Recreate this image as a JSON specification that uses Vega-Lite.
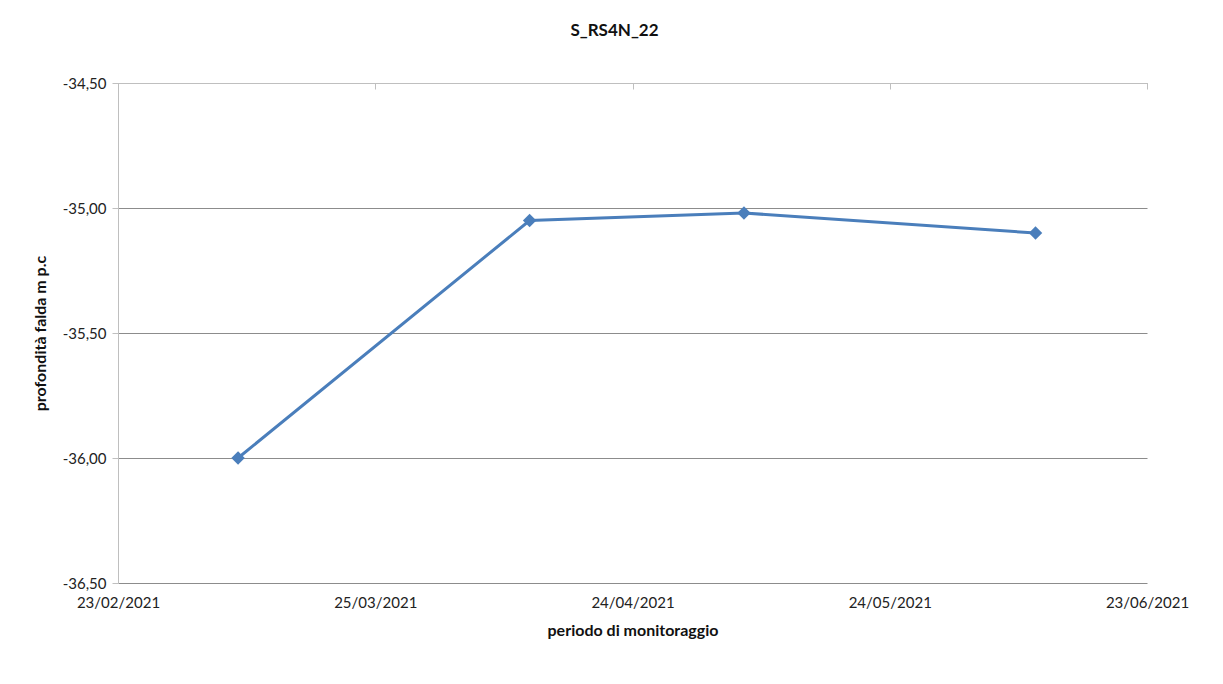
{
  "$schema": "https://vega.github.io/schema/vega-lite/v6.json",
  "autosize": "none",
  "width": 1029,
  "height": 500,
  "padding": {"left": 118, "top": 83, "right": 76, "bottom": 101},
  "background": "white",
  "config": {
    "view": {"stroke": null},
    "font": "Lato",
    "axis": {"labelFont": "Lato", "titleFont": "Lato", "labelColor": "#222222", "titleColor": "#111111"}
  },
  "title": {
    "text": "S_RS4N_22",
    "font": "Lato",
    "fontSize": 17,
    "fontWeight": "bold",
    "color": "#111111",
    "anchor": "middle",
    "offset": 36,
    "dx": -18
  },
  "data": {
    "values": [
      {"data": "2021-03-09", "profondita": -36.00},
      {"data": "2021-04-12", "profondita": -35.05},
      {"data": "2021-05-07", "profondita": -35.02},
      {"data": "2021-06-10", "profondita": -35.10}
    ]
  },
  "layer": [
    {
      "mark": {
        "type": "line",
        "color": "#4A7EBB",
        "strokeWidth": 3,
        "point": {"shape": "diamond", "size": 180, "filled": true, "color": "#4A7EBB", "opacity": 1}
      },
      "encoding": {
        "x": {
          "field": "data",
          "type": "temporal",
          "scale": {"type": "utc", "domain": [1614038400000, 1624406400000]},
          "axis": {
            "orient": "bottom",
            "title": "periodo di monitoraggio",
            "titleFontSize": 16,
            "titleFontWeight": "bold",
            "titlePadding": 12,
            "values": [1614038400000, 1616630400000, 1619222400000, 1621814400000, 1624406400000],
            "labelExpr": "utcFormat(datum.value, '%d/%m/%Y')",
            "labelFontSize": 15,
            "labelPadding": 12,
            "labelOverlap": false,
            "labelFlush": false,
            "domain": false,
            "ticks": false,
            "grid": false
          }
        },
        "y": {
          "field": "profondita",
          "type": "quantitative",
          "scale": {"domain": [-36.5, -34.5], "zero": false, "nice": false},
          "axis": {
            "title": "profondità falda m p.c",
            "titleFontSize": 16,
            "titleFontWeight": "bold",
            "titlePadding": 14,
            "values": [-36.5, -36.0, -35.5, -35.0, -34.5],
            "labelExpr": "(datum.value < 0 ? '-' : '') + replace(format(abs(datum.value), '.2f'), '.', ',')",
            "labelFontSize": 15,
            "labelPadding": 6,
            "domain": true,
            "domainColor": "#BFBFBF",
            "domainWidth": 1,
            "ticks": true,
            "tickColor": "#BFBFBF",
            "tickSize": 6,
            "grid": true,
            "gridColor": "#8C8C8C",
            "gridWidth": 1
          }
        }
      }
    },
    {
      "mark": {"type": "point", "opacity": 0},
      "encoding": {
        "x": {
          "field": "data",
          "type": "temporal",
          "axis": {
            "orient": "top",
            "title": null,
            "labels": false,
            "values": [1614038400000, 1616630400000, 1619222400000, 1621814400000, 1624406400000],
            "domain": true,
            "domainColor": "#BFBFBF",
            "ticks": true,
            "tickColor": "#BFBFBF",
            "tickSize": -6,
            "grid": false
          }
        },
        "y": {"field": "profondita", "type": "quantitative"}
      }
    }
  ],
  "resolve": {"axis": {"x": "independent"}}
}
